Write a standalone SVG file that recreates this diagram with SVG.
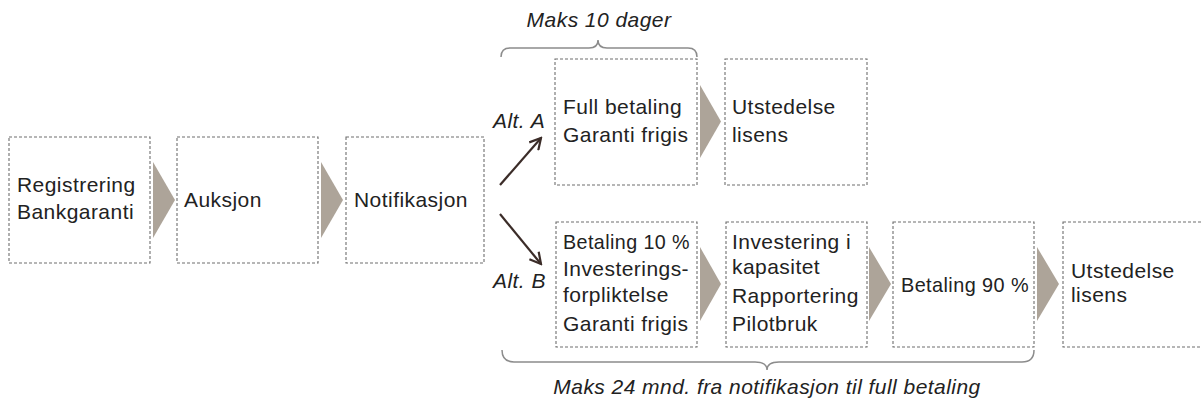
<svg xmlns="http://www.w3.org/2000/svg" width="1202" height="401" viewBox="0 0 1202 401">
<defs>
<style>
.box{fill:#ffffff;stroke:#6e6e6e;stroke-width:1.1;stroke-dasharray:3,2}
.chev{fill:#ada499}
.t{font-family:"Liberation Sans",Arial,sans-serif;font-size:21px;fill:#222222;letter-spacing:0.45px}
.it{font-style:italic}
.brace{fill:none;stroke:#8c8c8c;stroke-width:1.5}
.arr{fill:none;stroke:#3b2c28;stroke-width:2.2}
</style>
<marker id="ah" viewBox="0 0 14 14" refX="12" refY="7" markerWidth="14" markerHeight="14" markerUnits="userSpaceOnUse" orient="auto">
<path d="M1,1 L12,7 L1,13" fill="none" stroke="#3b2c28" stroke-width="2.2"/>
</marker>
</defs>
<rect width="1202" height="401" fill="#ffffff"/>

<g id="connectors">
<polygon class="chev" points="153,162 175,200 153,238"/>
<polygon class="chev" points="321,162 343,200 321,238"/>
<polygon class="chev" points="700,85 721,121.5 700,158"/>
<polygon class="chev" points="700,247 721,284 700,321"/>
<polygon class="chev" points="869,247 891,284 869,321"/>
<polygon class="chev" points="1037,247 1059,284 1037,321"/>
<line class="arr" x1="500" y1="185" x2="541" y2="138" marker-end="url(#ah)"/>
<line class="arr" x1="500" y1="214" x2="541" y2="264" marker-end="url(#ah)"/>
</g>

<g id="node-registrering">
<rect class="box" x="9" y="137" width="141" height="126"/>
<text class="t" x="17" y="192">Registrering</text>
<text class="t" x="17" y="219">Bankgaranti</text>
</g>
<g id="node-auksjon">
<rect class="box" x="177" y="137" width="141" height="126"/>
<text class="t" x="184" y="207">Auksjon</text>
</g>
<g id="node-notifikasjon">
<rect class="box" x="346" y="137" width="138" height="126"/>
<text class="t" x="354" y="207">Notifikasjon</text>
</g>

<g id="label-alt-a">
<text class="t it" x="493" y="128">Alt. A</text>
</g>
<g id="label-alt-b">
<text class="t it" x="493" y="288">Alt. B</text>
</g>

<g id="node-a-full-betaling">
<rect class="box" x="555" y="59" width="142" height="126"/>
<text class="t" x="563" y="114">Full betaling</text>
<text class="t" x="563" y="142">Garanti  frigis</text>
</g>
<g id="node-a-utstedelse">
<rect class="box" x="725" y="59" width="142" height="126"/>
<text class="t" x="732" y="114">Utstedelse</text>
<text class="t" x="732" y="142">lisens</text>
</g>

<g id="node-b-betaling10">
<rect class="box" x="556" y="222" width="141" height="125"/>
<text class="t" x="563" y="249" textLength="127" lengthAdjust="spacingAndGlyphs">Betaling 10 %</text>
<text class="t" x="563" y="276">Investerings-</text>
<text class="t" x="563" y="302">forpliktelse</text>
<text class="t" x="563" y="331">Garanti  frigis</text>
</g>
<g id="node-b-investering">
<rect class="box" x="726" y="222" width="141" height="125"/>
<text class="t" x="732" y="249">Investering i</text>
<text class="t" x="732" y="274">kapasitet</text>
<text class="t" x="732" y="303">Rapportering</text>
<text class="t" x="732" y="331">Pilotbruk</text>
</g>
<g id="node-b-betaling90">
<rect class="box" x="893" y="222" width="141" height="125"/>
<text class="t" x="901" y="292" textLength="128" lengthAdjust="spacingAndGlyphs">Betaling 90 %</text>
</g>
<g id="node-b-utstedelse">
<rect class="box" x="1063" y="222" width="141" height="125"/>
<text class="t" x="1071" y="278">Utstedelse</text>
<text class="t" x="1071" y="302">lisens</text>
</g>

<g id="brace-top">
<path class="brace" d="M501,57 Q501,48 510,48 L589,48 Q598,48 598,40 Q598,48 607,48 L688,48 Q697,48 697,57"/>
<text class="t it" x="599" y="27" text-anchor="middle">Maks 10 dager</text>
</g>
<g id="brace-bottom">
<path class="brace" d="M502,350 Q502,362 514,362 L755,362 Q767,362 767,370 Q767,362 779,362 L1022,362 Q1034,362 1034,350"/>
<text class="t it" x="767" y="394" text-anchor="middle">Maks 24 mnd. fra notifikasjon til full betaling</text>
</g>
</svg>
